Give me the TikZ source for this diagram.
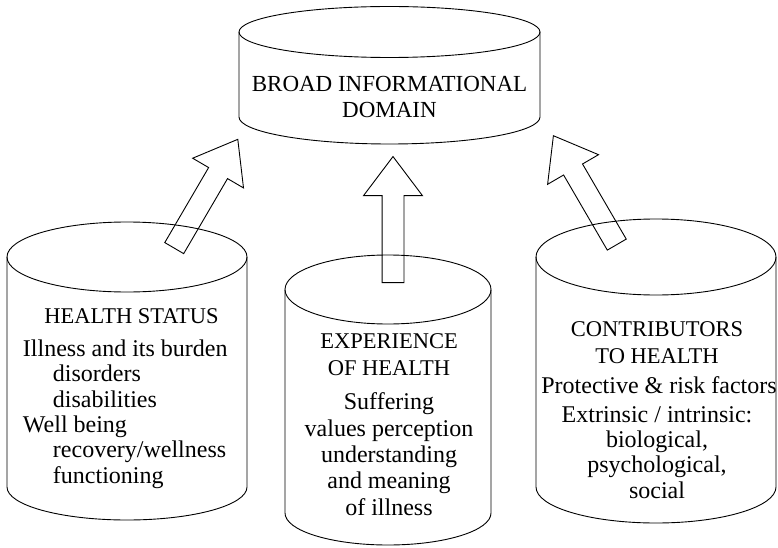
\documentclass[tikz,border=0pt]{standalone}
\usepackage{fontspec}
\setmainfont{Liberation Serif}
\usetikzlibrary{shapes.arrows}

\tikzset{
  hollow arrow/.style={single arrow, draw, anchor=tail,
    inner xsep=0pt, inner ysep=10.5pt, minimum height=126pt,
    single arrow head extend=18.5pt, single arrow tip angle=74},
  heading/.style={font=\fontsize{22.5}{26.5}\selectfont, align=center, inner sep=0pt, anchor=base},
  body/.style={font=\fontsize{24}{26}\selectfont, inner sep=0pt, anchor=base}
}

\begin{document}
\begin{tikzpicture}[x=1pt, y=1pt, line width=0.9pt]
  \useasboundingbox (0,0) rectangle (778,547);

  % top cylinder (base anchor = last text line)
  \draw (389.5,515) ellipse (150.5 and 25.5);
  \draw (239,515) -- (239,430) arc (180:360:150.5 and 27) -- (540,515);
  \node[heading, font=\fontsize{23}{26.5}\selectfont] (domain) at (389.5,429) {BROAD INFORMATIONAL\\DOMAIN};

  % left cylinder
  \draw (127,290) ellipse (120 and 35);
  \draw (7,290) -- (7,60) arc (180:360:120 and 33) -- (247,290);
  \node[heading] (statusHead) at (131.5,224) {HEALTH STATUS};
  \node[body, anchor=base west, align=left, font=\fontsize{24}{25.3}\selectfont] (statusBody) at (22.5,64)
    {Illness and its burden\\
     \hspace*{30pt}disorders\\
     \hspace*{30pt}disabilities\\
     Well being\\
     \hspace*{30pt}recovery/wellness\\
     \hspace*{30pt}functioning};

  % middle cylinder
  \draw (388,257.5) ellipse (103 and 34.5);
  \draw (285,257.5) -- (285,34) arc (180:360:103 and 32) -- (491,257.5);
  \node[heading] (experHead) at (389,172) {EXPERIENCE\\OF HEALTH};
  \node[body, align=center, font=\fontsize{24}{26.3}\selectfont] (experBody) at (389,32)
    {Suffering\\values perception\\understanding\\and meaning\\of illness};

  % right cylinder
  \draw (656,290) ellipse (120 and 38);
  \draw (536,290) -- (536,60) arc (180:360:120 and 36) -- (776,290);
  \node[heading] (contribHead) at (657,184) {CONTRIBUTORS\\TO HEALTH};
  \node[body] (contribRisk) at (659,154) {Protective \& risk factors};
  \node[body, align=center, font=\fontsize{24}{25.3}\selectfont] (contribBody) at (657,49)
    {Extrinsic / intrinsic:\\biological,\\psychological,\\social};

  % arrows up to the domain
  \node[hollow arrow, rotate=59.7] (statusArrow) at (174,298.5) {};
  \node[hollow arrow, rotate=90] (experArrow) at (393,264) {};
  \node[hollow arrow, rotate=120.2] (contribArrow) at (617,302) {};
\end{tikzpicture}
\end{document}
